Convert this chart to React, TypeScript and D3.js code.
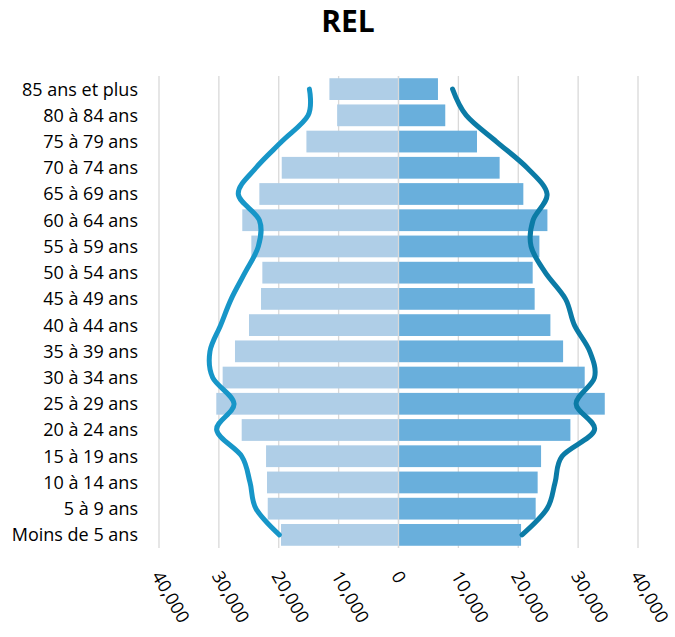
import React from "react";
import * as d3 from "d3";

const categories = [
  "85 ans et plus", "80 à 84 ans", "75 à 79 ans", "70 à 74 ans", "65 à 69 ans",
  "60 à 64 ans", "55 à 59 ans", "50 à 54 ans", "45 à 49 ans", "40 à 44 ans",
  "35 à 39 ans", "30 à 34 ans", "25 à 29 ans", "20 à 24 ans", "15 à 19 ans",
  "10 à 14 ans", "5 à 9 ans", "Moins de 5 ans",
];

// left side (shown as negative)
const leftBars = [11540, 10250, 15380, 19500, 23240, 26090, 24580, 22740, 22960, 24970, 27310, 29370, 30430, 26190, 22120, 21960, 21840, 19620];
const rightBars = [6590, 7810, 13110, 16890, 20850, 24870, 23530, 22410, 22740, 25370, 27490, 31100, 34450, 28710, 23810, 23240, 22910, 20470];

const leftLine = [14880, 15100, 19500, 23800, 26760, 23240, 23410, 25640, 27930, 29700, 31490, 31040, 27470, 30370, 26190, 24800, 23800, 19900];
const rightLine = [9030, 11320, 16340, 21470, 24810, 22470, 22140, 24530, 27880, 29380, 31940, 32730, 29660, 32730, 27320, 26150, 24810, 20630];

const xTicks = [-40000, -30000, -20000, -10000, 0, 10000, 20000, 30000, 40000];
const title = "REL";

const W = 675;
const H = 637;
const FONT = "'Open Sans', sans-serif";

export default function App() {
  const x = d3.scaleLinear().domain([-40000, 40000]).range([159, 638]);
  const y = d3
    .scaleBand<string>()
    .domain(categories)
    .range([76, 548])
    .paddingInner(0.17)
    .paddingOuter(0.085);
  const bw = y.bandwidth();
  const cy = (c: string) => (y(c) as number) + bw / 2;

  const line = d3
    .line<[number, number]>()
    .x((d) => d[0])
    .y((d) => d[1])
    .curve(d3.curveCardinal.tension(0));

  const leftPts: [number, number][] = categories.map((c, i) => [x(-leftLine[i]), cy(c)]);
  const rightPts: [number, number][] = categories.map((c, i) => [x(rightLine[i]), cy(c)]);
  const fmt = d3.format(",");

  return (
    <svg
      width={W}
      height={H}
      style={{ position: "absolute", left: 0, top: 0, background: "#fff" }}
      fontFamily={FONT}
    >
      <text x={348} y={32} textAnchor="middle" fontSize={30} fontWeight="bold" fill="#000">
        {title}
      </text>
      {xTicks.map((t) => (
        <line key={"g" + t} x1={x(t)} x2={x(t)} y1={76} y2={548} stroke="#d9d9d9" strokeWidth={1.3} />
      ))}
      {categories.map((c, i) => (
        <rect key={"l" + c} x={x(-leftBars[i])} y={y(c)} width={x(0) - x(-leftBars[i])} height={bw} fill="#afcee7" />
      ))}
      {categories.map((c, i) => (
        <rect key={"r" + c} x={x(0)} y={y(c)} width={x(rightBars[i]) - x(0)} height={bw} fill="#69afdc" />
      ))}
      <line x1={x(0)} x2={x(0)} y1={76} y2={548} stroke="#d9d9d9" strokeWidth={1.3} />
      <path d={line(leftPts) || ""} fill="none" stroke="#1796c8" strokeWidth={5} strokeLinecap="round" />
      <path d={line(rightPts) || ""} fill="none" stroke="#0b7ba6" strokeWidth={5} strokeLinecap="round" />
      {categories.map((c) => (
        <text key={"t" + c} x={138} y={cy(c)} dy="0.36em" textAnchor="end" fontSize={18} fill="#000">
          {c}
        </text>
      ))}
      {xTicks.map((t) => (
        <text
          key={"x" + t}
          transform={`translate(${x(t) + 4},${569}) rotate(60)`}
          fontSize={18}
          fill="#000"
          dy="0.75em"
        >
          {fmt(Math.abs(t))}
        </text>
      ))}
    </svg>
  );
}
